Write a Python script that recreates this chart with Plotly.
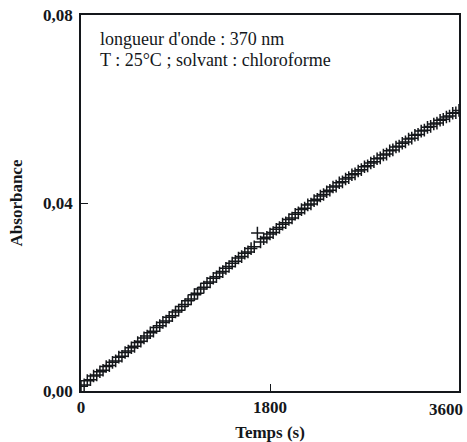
import plotly.graph_objects as go

# Time (s)
temps = [0, 30, 60, 90, 120, 150, 180, 210, 240, 270,
         300, 330, 360, 390, 420, 450, 480, 510, 540, 570,
         600, 630, 660, 690, 720, 750, 780, 810, 840, 870,
         900, 930, 960, 990, 1020, 1050, 1080, 1110, 1140, 1170,
         1200, 1230, 1260, 1290, 1320, 1350, 1380, 1410, 1440, 1470,
         1500, 1530, 1560, 1590, 1620, 1650, 1680, 1710, 1740, 1770,
         1800, 1830, 1860, 1890, 1920, 1950, 1980, 2010, 2040, 2070,
         2100, 2130, 2160, 2190, 2220, 2250, 2280, 2310, 2340, 2370,
         2400, 2430, 2460, 2490, 2520, 2550, 2580, 2610, 2640, 2670,
         2700, 2730, 2760, 2790, 2820, 2850, 2880, 2910, 2940, 2970,
         3000, 3030, 3060, 3090, 3120, 3150, 3180, 3210, 3240, 3270,
         3300, 3330, 3360, 3390, 3420, 3450, 3480, 3510, 3540, 3570,
         3600]

# Absorbance
absorbance = [0.0010, 0.0013, 0.0022, 0.0024, 0.0032, 0.0034, 0.0041, 0.0044, 0.0052, 0.0054,
              0.0061, 0.0064, 0.0072, 0.0074, 0.0082, 0.0085, 0.0092, 0.0095, 0.0103, 0.0106,
              0.0113, 0.0117, 0.0124, 0.0127, 0.0135, 0.0139, 0.0146, 0.0149, 0.0157, 0.0160,
              0.0168, 0.0172, 0.0180, 0.0184, 0.0192, 0.0196, 0.0205, 0.0208, 0.0217, 0.0221,
              0.0229, 0.0232, 0.0240, 0.0243, 0.0251, 0.0254, 0.0261, 0.0265, 0.0272, 0.0276,
              0.0283, 0.0286, 0.0293, 0.0296, 0.0303, 0.0307, 0.0336, 0.0317, 0.0324, 0.0327,
              0.0334, 0.0337, 0.0344, 0.0348, 0.0355, 0.0358, 0.0365, 0.0368, 0.0376, 0.0379,
              0.0386, 0.0389, 0.0396, 0.0398, 0.0405, 0.0408, 0.0415, 0.0418, 0.0424, 0.0427,
              0.0434, 0.0436, 0.0443, 0.0445, 0.0451, 0.0454, 0.0460, 0.0462, 0.0468, 0.0471,
              0.0477, 0.0479, 0.0485, 0.0488, 0.0494, 0.0496, 0.0502, 0.0504, 0.0511, 0.0513,
              0.0519, 0.0521, 0.0527, 0.0530, 0.0536, 0.0538, 0.0544, 0.0546, 0.0553, 0.0555,
              0.0561, 0.0563, 0.0568, 0.0570, 0.0576, 0.0578, 0.0583, 0.0585, 0.0591, 0.0592,
              0.0597]

x_tickvals = [0, 1800, 3600]
x_ticktext = ["0", "1800", "3600"]
y_tickvals = [0.0, 0.04, 0.08]
y_ticktext = ["0,00", "0,04", "0,08"]

annotation_lines = ["longueur d'onde : 370 nm", "T : 25°C ; solvant : chloroforme"]

serif = "Liberation Serif, Times New Roman, serif"
ink = "#14171b"

fig = go.Figure()
fig.add_trace(go.Scatter(
    x=temps, y=absorbance, mode="markers",
    marker=dict(symbol="cross-thin-open", size=9, color=ink,
                line=dict(width=1.5, color=ink)),
    showlegend=False, hoverinfo="skip"))

tickfont = dict(family=serif, size=17, color=ink, weight="bold")

fig.update_layout(
    width=467, height=442,
    margin=dict(l=81, r=8, t=15, b=51),
    paper_bgcolor="white", plot_bgcolor="white",
    font=dict(family=serif, color=ink),
    xaxis=dict(range=[0, 3600], tickvals=x_tickvals,
               # last label is drawn as an annotation so it can sit inside the page
               ticktext=x_ticktext[:-1] + [""],
               ticks="inside", ticklen=7, tickwidth=1.4, tickcolor=ink,
               showline=True, linecolor=ink, linewidth=1.8, mirror=True,
               showgrid=False, zeroline=False, automargin=False,
               tickfont=tickfont,
               title=dict(text="<b>Temps (s)</b>", font=dict(family=serif, size=17, color=ink),
                          standoff=10)),
    yaxis=dict(range=[0, 0.08], tickvals=y_tickvals, ticktext=y_ticktext,
               ticks="inside", ticklen=7, tickwidth=1.4, tickcolor=ink,
               showline=True, linecolor=ink, linewidth=1.8, mirror=True,
               showgrid=False, zeroline=False, automargin=False,
               ticklabeloverflow="allow", ticklabelstandoff=3,
               tickfont=tickfont,
               title=dict(text="<b>Absorbance</b>", font=dict(family=serif, size=17, color=ink),
                          standoff=16)),
)

fig.add_annotation(
    xref="x", yref="paper", x=x_tickvals[-1], y=0, xanchor="right", yanchor="top",
    xshift=6, yshift=-7, text=x_ticktext[-1], showarrow=False, font=tickfont)

for line, ypos in zip(annotation_lines, [0.936, 0.881]):
    fig.add_annotation(
        xref="paper", yref="paper", x=0.045, y=ypos, xanchor="left", yanchor="middle",
        text=line, align="left", showarrow=False,
        font=dict(family=serif, size=18, color=ink))

fig.write_html("out.html", config={"displayModeBar": False},
               post_script="document.body.style.margin='0';")
